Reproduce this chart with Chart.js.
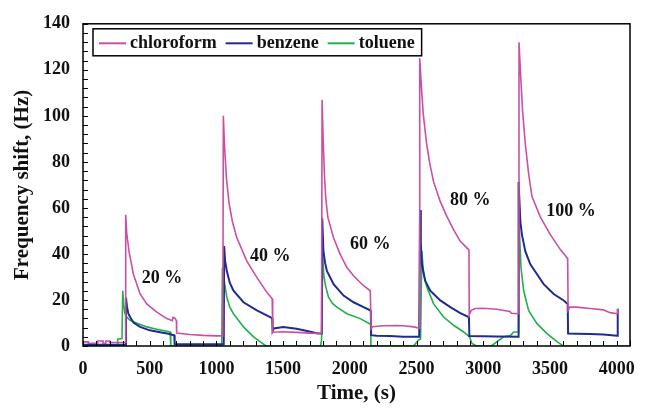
<!DOCTYPE html>
<html>
<head>
<meta charset="utf-8">
<script src="https://cdn.jsdelivr.net/npm/chart.js@4.4.0/dist/chart.umd.min.js"></script>
<style>
    html, body { margin: 0; padding: 0; background: #fff; }
    #wrap { width: 649px; height: 408px; }
</style>
</head>
<body>
<div id="wrap"><canvas id="freqChart" width="649" height="408"></canvas></div>
<script>
// Time (s) and frequency shift (Hz)
const chloroformT = [0, 40, 40, 110, 110, 150, 150, 170, 170, 200, 200, 318,
    320, 328, 345, 378, 428, 478, 553, 628, 670, 675, 690, 700, 702, 800, 900, 1000, 1048,
    1052, 1060, 1075, 1095, 1120, 1153, 1228, 1303, 1378, 1418, 1422, 1500, 1600, 1700, 1788,
    1792, 1800, 1810, 1820, 1835, 1878, 1928, 1978, 2028, 2103, 2153, 2157, 2160, 2170, 2250, 2350, 2400, 2480, 2520,
    2524, 2535, 2550, 2575, 2600, 2628, 2678, 2728, 2778, 2828, 2890, 2893, 2895, 2910, 2940, 3000, 3100, 3200, 3210, 3265,
    3268, 3280, 3295, 3315, 3340, 3365, 3428, 3503, 3578, 3628, 3633, 3636, 3650, 3700, 3800, 3900, 3950, 4006, 4008];
const chloroformV = [1.8, 1.8, 1.2, 1.2, 2.2, 2.2, 1.2, 1.2, 2.2, 2.2, 1.5, 1.5,
    57, 49, 41, 31.2, 22.6, 18.3, 14.7, 11.9, 11.0, 12.5, 12.0, 11.0, 5.6, 5.0, 4.6, 4.4, 4.4,
    100, 88, 73, 62, 54, 47, 36.9, 29.8, 23.3, 20.5, 6.0, 6.2, 5.9, 5.6, 5.5,
    107, 90, 74, 64, 56, 47, 39.8, 34.1, 30.5, 26.2, 24.0, 24.0, 7.5, 8.4, 8.8, 8.9, 8.8, 8.3, 7.7,
    125, 114, 101, 88, 79, 71.3, 62.7, 56.2, 50.5, 45.5, 41.9, 41.5, 13.5, 15.5, 16.3, 16.4, 16.0, 15.0, 14.2, 14.0,
    132, 118, 102, 88, 75, 65, 56, 48.4, 41.9, 38.4, 37.5, 15.5, 16.9, 16.9, 16.3, 15.7, 14.5, 14.0, 16.2];

const benzeneT = [0, 318,
    322, 330, 340, 353, 378, 428, 500, 578, 640, 680, 684, 687, 800, 1000, 1055,
    1058, 1065, 1078, 1100, 1128, 1203, 1303, 1403, 1418, 1421, 1430, 1500, 1600, 1680, 1760, 1790,
    1793, 1802, 1815, 1828, 1878, 1953, 2028, 2103, 2153, 2157, 2160, 2200, 2300, 2400, 2520,
    2526, 2532, 2540, 2565, 2603, 2678, 2753, 2828, 2890, 2893, 2896, 3000, 3100, 3262,
    3265, 3278, 3290, 3315, 3353, 3403, 3453, 3528, 3603, 3633, 3636, 3700, 3800, 3900, 4005, 4008];
const benzeneV = [0.5, 0.5,
    21, 17, 14, 12.6, 10.2, 8.3, 6.8, 6.0, 5.3, 4.7, 4.7, 0.9, 0.8, 0.8, 0.8,
    43.4, 37, 32.6, 27.5, 24.0, 19.0, 15.5, 12.6, 12.0, 6.5, 7.6, 8.2, 7.5, 6.5, 5.4, 5.4,
    55.5, 41.2, 36, 32.6, 26.9, 21.9, 19.0, 16.9, 15.5, 15.0, 4.7, 4.5, 4.3, 4.0, 4.0,
    59.1, 45, 35.5, 28.3, 24.0, 19.8, 16.9, 14.3, 12.6, 12.0, 4.3, 4.2, 4.1, 4.0,
    71.3, 54.1, 48.4, 41.2, 35.5, 31.2, 26.9, 22.6, 19.8, 18.3, 5.4, 5.3, 5.2, 5.0, 4.5, 16.2];

const tolueneT = [0, 258, 260, 292,
    298, 305, 315, 330, 353, 400, 478, 560, 653, 657, 659, 1040,
    1045, 1058, 1078, 1100, 1128, 1203, 1278, 1365, 1375, 1780, 1788,
    1797, 1805, 1815, 1840, 1870, 1903, 1978, 2078, 2148, 2156, 2158, 2478, 2515, 2530,
    2540, 2553, 2578, 2628, 2703, 2778, 2853, 2898, 2915, 2950, 3060, 3153, 3203, 3228, 3265,
    3270, 3283, 3303, 3340, 3403, 3478, 3553, 3590, 3600, 4100];
const tolueneV = [0.3, 0.3, 3.0, 3.2,
    24, 18, 14, 12.4, 11.2, 10, 8.3, 7.2, 6.1, 6.0, 0, 0,
    34.1, 28.3, 21.2, 17, 14.0, 8.3, 4.0, 0.3, 0, 0, 2.6,
    38.3, 31, 26.9, 21.2, 18.5, 16.9, 14.0, 11.9, 9.7, 9.5, 0, 0, 2.6, 3.0,
    41.2, 31.2, 25.5, 18.3, 12.6, 9.0, 6.1, 4.0, 1.1, 0, 0, 4.0, 4.5, 6.1, 6.1,
    51.2, 34.1, 24.0, 15.5, 9.7, 5.4, 1.9, 0.4, 0, 0];

const xTickLabels = [0, 500, 1000, 1500, 2000, 2500, 3000, 3500, 4000];
const yTickLabels = [0, 20, 40, 60, 80, 100, 120, 140];

// concentration labels, anchored in data units (time, Hz)
const concLabels = ['20 %', '40 %', '60 %', '80 %', '100 %'];
const concLabelT = [592, 1403, 2153, 2903, 3658];
const concLabelV = [29.6, 39, 44.1, 63.4, 58.4];

const serif = 'Liberation Serif, Times New Roman, serif';

function toPoints(ts, vs) {
    return ts.map((t, i) => ({ x: t, y: vs[i] }));
}

const overlayPlugin = {
    id: 'overlay',
    afterDatasetsDraw(chart) {
        const { ctx, chartArea: a, scales: { x, y } } = chart;
        ctx.save();

        // inward minor ticks on left and bottom axes
        ctx.strokeStyle = '#000';
        ctx.lineWidth = 1;
        ctx.beginPath();
        for (let t = 0; t <= 4100; t += 100) {
            const px = Math.round(x.getPixelForValue(t)) + 0.5;
            ctx.moveTo(px, a.bottom);
            ctx.lineTo(px, a.bottom - 5);
        }
        for (let v = 0; v <= 140; v += 4) {
            const py = Math.round(y.getPixelForValue(v)) + 0.5;
            ctx.moveTo(a.left, py);
            ctx.lineTo(a.left + 5, py);
        }
        ctx.stroke();

        // plot frame
        ctx.lineWidth = 1.5;
        ctx.strokeRect(a.left, a.top, a.right - a.left, a.bottom - a.top);

        // concentration labels
        ctx.fillStyle = '#111';
        ctx.font = 'bold 18px ' + serif;
        ctx.textAlign = 'center';
        ctx.textBaseline = 'middle';
        concLabels.forEach((txt, i) => {
            ctx.fillText(txt, x.getPixelForValue(concLabelT[i]), y.getPixelForValue(concLabelV[i]));
        });

        // legend with a box, inside the plot
        const boxL = a.left + 10, boxT = a.top + 5, boxH = 27;
        const midY = boxT + boxH / 2 + 1;
        let cx = boxL + 6;
        ctx.textAlign = 'left';
        chart.data.datasets.forEach(ds => {
            ctx.strokeStyle = ds.borderColor;
            ctx.lineWidth = 2;
            ctx.beginPath();
            ctx.moveTo(cx, midY);
            ctx.lineTo(cx + 27, midY);
            ctx.stroke();
            ctx.fillText(ds.label, cx + 31, midY);
            cx += 31 + ctx.measureText(ds.label).width + 9;
        });
        ctx.strokeStyle = '#000';
        ctx.lineWidth = 1.5;
        ctx.strokeRect(boxL, boxT, cx - 2 - boxL, boxH);

        ctx.restore();
    }
};

const tickFont = { family: serif, size: 18, weight: 'bold' };
const titleFont = { family: serif, size: 21, weight: 'bold' };

new Chart(document.getElementById('freqChart'), {
    type: 'line',
    data: {
        datasets: [
            {
                label: 'chloroform',
                data: toPoints(chloroformT, chloroformV),
                borderColor: '#cc4fa3',
                borderWidth: 1.6
            },
            {
                label: 'benzene',
                data: toPoints(benzeneT, benzeneV),
                borderColor: '#1f2b8f',
                borderWidth: 2
            },
            {
                label: 'toluene',
                data: toPoints(tolueneT, tolueneV),
                borderColor: '#22b04b',
                borderWidth: 1.6
            }
        ]
    },
    options: {
        responsive: false,
        animation: false,
        devicePixelRatio: 1,
        layout: { padding: { left: 0, top: 20, right: 19, bottom: 0 } },
        elements: {
            point: { radius: 0 },
            line: { tension: 0, fill: false }
        },
        plugins: {
            legend: { display: false },
            tooltip: { enabled: false }
        },
        scales: {
            x: {
                type: 'linear',
                min: 0,
                max: 4100,
                afterBuildTicks: s => { s.ticks = xTickLabels.map(v => ({ value: v })); },
                afterFit: s => { s.height = 62; },
                grid: { display: false, drawTicks: false },
                border: { display: false },
                ticks: { font: tickFont, color: '#111', padding: 13, maxRotation: 0, autoSkip: false,
                         callback: v => String(v) },
                title: { display: true, text: 'Time, (s)', font: titleFont, color: '#111', padding: { top: 0, bottom: 2 } }
            },
            y: {
                min: 0,
                max: 140,
                afterBuildTicks: s => { s.ticks = yTickLabels.map(v => ({ value: v })); },
                afterFit: s => { s.width = 83; },
                grid: { display: false, drawTicks: false },
                border: { display: false },
                ticks: { font: tickFont, color: '#111', padding: 13, callback: v => String(v) },
                title: { display: true, text: 'Frequency shift, (Hz)', font: titleFont, color: '#111', padding: { top: 10, bottom: 0 } }
            }
        }
    },
    plugins: [overlayPlugin]
});
</script>
</body>
</html>
